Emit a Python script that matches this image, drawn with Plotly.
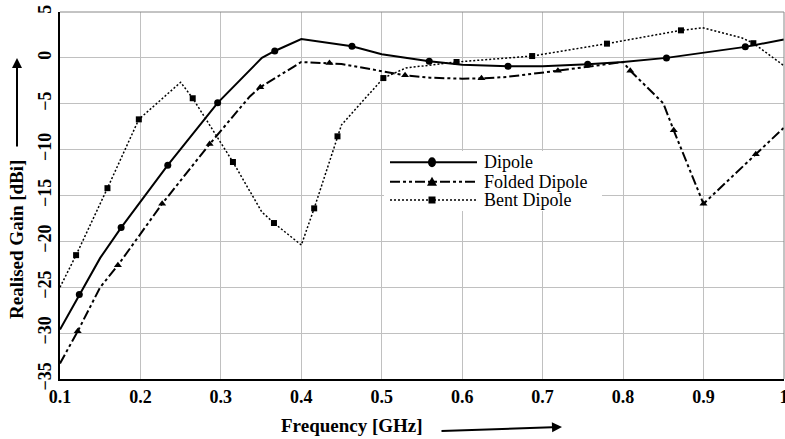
import plotly.graph_objects as go

# ---- data ----
dipole_f = [0.1, 0.124, 0.15, 0.176, 0.234, 0.296, 0.351, 0.367, 0.4, 0.463, 0.5, 0.559, 0.6, 0.657, 0.7, 0.756, 0.8, 0.854, 0.9, 0.952, 1.0]
dipole_g = [-29.6, -25.8, -21.8, -18.5, -11.7, -4.9, 0.0, 0.75, 2.06, 1.26, 0.4, -0.37, -0.74, -0.92, -0.9, -0.7, -0.45, 0.0, 0.53, 1.2, 2.0]
dipole_mf = [0.124, 0.176, 0.234, 0.296, 0.367, 0.463, 0.559, 0.657, 0.756, 0.854, 0.952]
dipole_mg = [-25.8, -18.5, -11.7, -4.9, 0.75, 1.26, -0.37, -0.92, -0.7, 0.0, 1.2]

folded_f = [0.1, 0.122, 0.15, 0.172, 0.227, 0.286, 0.336, 0.349, 0.4, 0.435, 0.45, 0.529, 0.56, 0.6, 0.624, 0.655, 0.672, 0.719, 0.8, 0.809, 0.85, 0.863, 0.9, 0.965, 1.0]
folded_g = [-33.3, -29.8, -25.0, -22.6, -15.9, -9.4, -4.2, -3.2, -0.45, -0.56, -0.67, -1.9, -2.16, -2.27, -2.23, -2.08, -1.9, -1.4, -0.45, -1.4, -4.95, -7.9, -15.9, -10.5, -7.6]
folded_mf = [0.122, 0.172, 0.227, 0.286, 0.349, 0.435, 0.529, 0.624, 0.719, 0.809, 0.863, 0.9, 0.965]
folded_mg = [-29.8, -22.6, -15.9, -9.4, -3.2, -0.56, -1.9, -2.23, -1.4, -1.4, -7.9, -15.9, -10.5]

bent_f = [0.1, 0.12, 0.159, 0.198, 0.25, 0.265, 0.315, 0.351, 0.366, 0.4, 0.416, 0.445, 0.45, 0.502, 0.53, 0.593, 0.6, 0.687, 0.78, 0.872, 0.899, 0.948, 0.962, 1.0]
bent_g = [-25.0, -21.5, -14.2, -6.7, -2.66, -4.4, -11.35, -16.8, -18.0, -20.4, -16.4, -8.55, -7.3, -2.2, -1.1, -0.45, -0.4, 0.2, 1.55, 3.0, 3.29, 2.17, 1.6, -0.85]
bent_mf = [0.12, 0.159, 0.198, 0.265, 0.315, 0.366, 0.416, 0.445, 0.502, 0.593, 0.687, 0.78, 0.872, 0.962]
bent_mg = [-21.5, -14.2, -6.7, -4.4, -11.35, -18.0, -16.4, -8.55, -2.2, -0.45, 0.2, 1.55, 3.0, 1.6]

x_ticks = [0.1, 0.2, 0.3, 0.4, 0.5, 0.6, 0.7, 0.8, 0.9, 1.0]
x_ticklabels = ["0.1", "0.2", "0.3", "0.4", "0.5", "0.6", "0.7", "0.8", "0.9", "1"]
y_ticks = [-35, -30, -25, -20, -15, -10, -5, 0, 5]
legend_names = ["Dipole", "Folded Dipole", "Bent Dipole"]

FOLD_DASH = "10px,3px,3px,3px,3px,3px"
BENT_DASH = "2px,2px"
series = [
    (dipole_f, dipole_g, dipole_mf, dipole_mg, "solid", 2, "circle", 7),
    (folded_f, folded_g, folded_mf, folded_mg, FOLD_DASH, 2, "triangle-up", 7),
    (bent_f, bent_g, bent_mf, bent_mg, BENT_DASH, 1.5, "square", 6),
]

fig = go.Figure()
for f, g, mf, mg, dash, w, sym, ms in series:
    fig.add_trace(go.Scatter(x=f, y=g, mode="lines", line=dict(color="black", width=w, dash=dash),
                             showlegend=False, hoverinfo="skip"))
    fig.add_trace(go.Scatter(x=mf, y=mg, mode="markers", marker=dict(color="black", symbol=sym, size=ms),
                             showlegend=False))

serif = "Liberation Serif, Times New Roman, serif"
fig.update_layout(
    width=785, height=439, autosize=False,
    margin=dict(l=60, r=1, t=12, b=60),
    plot_bgcolor="white", paper_bgcolor="white",
    font=dict(family=serif, color="black"),
    showlegend=False,
    xaxis=dict(range=[0.1, 1.0001], tickvals=x_ticks, ticktext=x_ticklabels, automargin=False,
               ticklabeloverflow="allow",
               showgrid=True, gridcolor="#c0c0c0", gridwidth=1,
               showline=True, linecolor="black", linewidth=2, mirror=False,
               ticks="", zeroline=False,
               tickfont=dict(family=serif, size=18, color="black", weight="bold")),
    yaxis=dict(range=[-35, 5], tickvals=y_ticks, tickangle=-90, automargin=False,
               ticklabeloverflow="allow",
               showgrid=True, gridcolor="#c0c0c0", gridwidth=1,
               showline=True, linecolor="black", linewidth=2, mirror=False,
               ticks="", zeroline=False,
               tickfont=dict(family=serif, size=18, color="black", weight="bold")),
)
# top and right thin frame
fig.add_shape(type="line", xref="paper", yref="paper", x0=0, x1=1, y0=1, y1=1, line=dict(color="#888888", width=1))
fig.add_shape(type="line", xref="paper", yref="paper", x0=1, x1=1, y0=0, y1=1, line=dict(color="#888888", width=1))

# ---- legend (drawn in paper coordinates) ----
def px_x(px):
    return (px - 60) / 724.0

def px_y(py):
    return (379 - py) / 367.0

fig.add_shape(type="rect", xref="paper", yref="paper", x0=px_x(384), x1=px_x(602), y0=px_y(211), y1=px_y(151),
              fillcolor="white", line=dict(width=0), layer="above")
rows = [162.3, 181.7, 200.0]
for (f, g, mf, mg, dash, w, sym, ms), name, ry in zip(series, legend_names, rows):
    yp = px_y(ry)
    fig.add_shape(type="line", xref="paper", yref="paper", x0=px_x(390), x1=px_x(477), y0=yp, y1=yp,
                  line=dict(color="black", width=w, dash=dash), layer="above")
    cx = px_x(432)
    if sym == "circle":
        fig.add_shape(type="circle", xref="paper", yref="paper", xsizemode="pixel", ysizemode="pixel",
                      xanchor=cx, yanchor=yp, x0=-4, x1=4, y0=-5, y1=5,
                      fillcolor="black", line=dict(width=0), layer="above")
    elif sym == "triangle-up":
        fig.add_shape(type="path", xref="paper", yref="paper", xsizemode="pixel", ysizemode="pixel",
                      xanchor=cx, yanchor=yp, path="M-5,-4 L5,-4 L0,5 Z",
                      fillcolor="black", line=dict(width=0), layer="above")
    else:
        fig.add_shape(type="rect", xref="paper", yref="paper", xsizemode="pixel", ysizemode="pixel",
                      xanchor=cx, yanchor=yp, x0=-3.5, x1=3.5, y0=-3.5, y1=3.5,
                      fillcolor="black", line=dict(width=0), layer="above")
    fig.add_annotation(xref="paper", yref="paper", x=px_x(483), y=yp, text=name, xanchor="left",
                       yanchor="middle", showarrow=False, borderpad=0,
                       font=dict(family=serif, size=18, color="black"))

# ---- axis titles with arrows ----
fig.add_annotation(xref="paper", yref="paper", x=px_x(16), y=px_y(240), text="<b>Realised Gain [dBi]</b>",
                   textangle=-90, xanchor="center", yanchor="middle", showarrow=False,
                   font=dict(family=serif, size=19, color="black"))
fig.add_annotation(xref="paper", yref="paper", x=px_x(17), y=px_y(58), text="", showarrow=True,
                   ax=0, ay=90, arrowhead=2, arrowsize=1, arrowwidth=2, arrowcolor="black")
fig.add_annotation(xref="paper", yref="paper", x=px_x(352), y=px_y(425), text="<b>Frequency [GHz]</b>",
                   xanchor="center", yanchor="middle", showarrow=False,
                   font=dict(family=serif, size=19, color="black"))
fig.add_annotation(xref="paper", yref="paper", x=px_x(562), y=px_y(427), text="", showarrow=True,
                   ax=-122, ay=4, arrowhead=2, arrowsize=1, arrowwidth=2, arrowcolor="black")

fig.write_html("out.html", config={"responsive": False, "displayModeBar": False},
               post_script="document.body.style.margin='0';document.body.style.overflow='hidden';")
